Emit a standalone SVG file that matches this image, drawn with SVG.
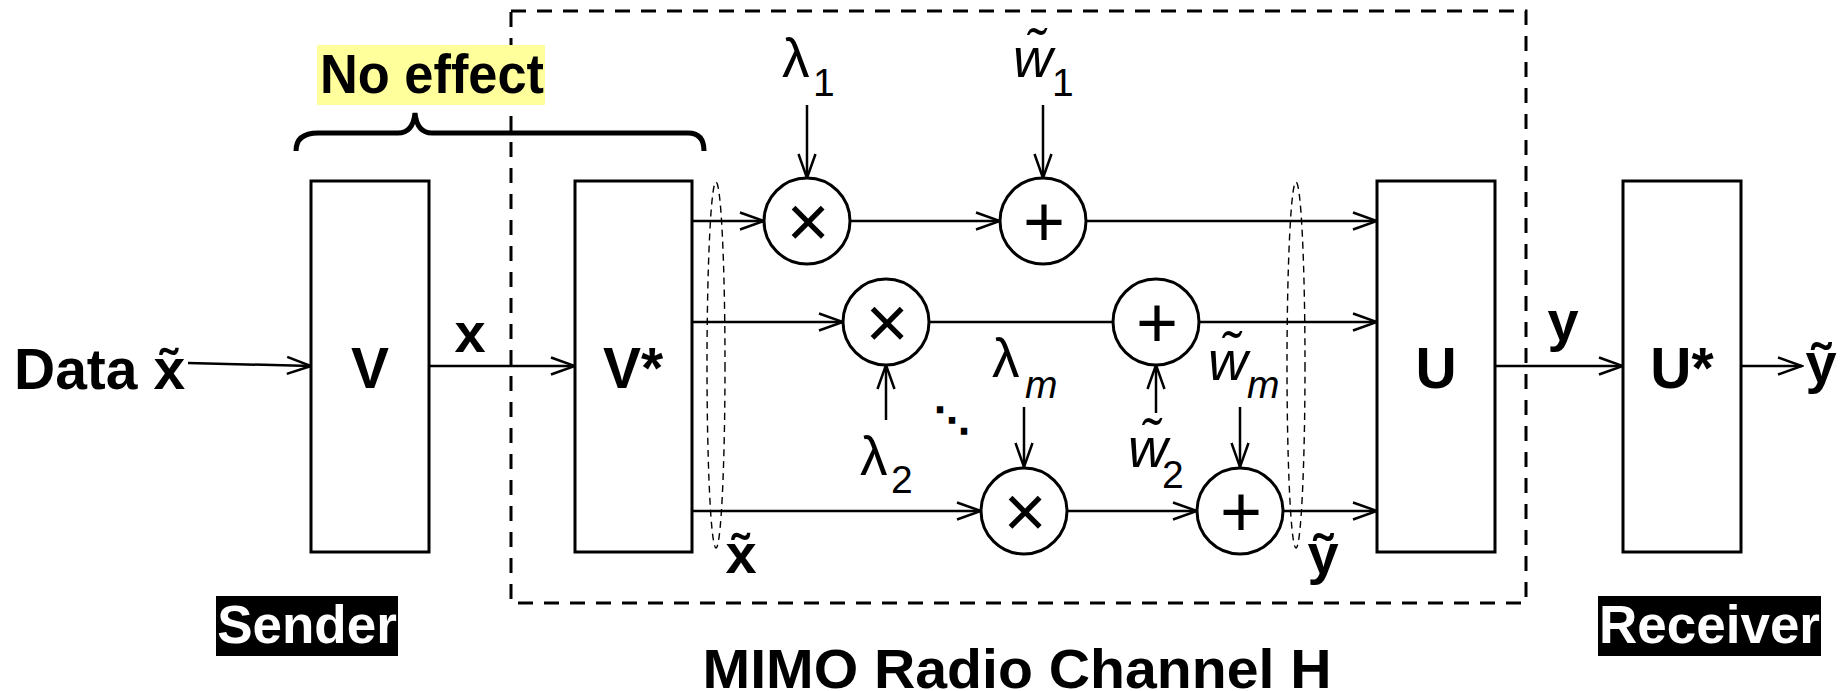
<svg xmlns="http://www.w3.org/2000/svg" width="1845" height="691" viewBox="0 0 1845 691">
<defs>
<style>
.box{fill:#fff;stroke:#000;stroke-width:3}
.op{fill:#fff;stroke:#000;stroke-width:3}
.conn{stroke:#000;stroke-width:2.5;fill:none}
.arr{marker-end:url(#ah)}
.b{font-family:"Liberation Sans",Arial,sans-serif;font-weight:bold;fill:#000}
.r{font-family:"Liberation Sans",Arial,sans-serif;font-weight:normal;fill:#000}
.i{font-family:"Liberation Sans",Arial,sans-serif;font-style:italic;fill:#000}
.w{fill:#fff}
.mul{font-family:"Liberation Sans",Arial,sans-serif;font-size:74px;text-anchor:middle}
.add{font-family:"Liberation Sans",Arial,sans-serif;font-size:72px;text-anchor:middle}
.ell{fill:none;stroke:#000;stroke-width:1.4;stroke-dasharray:7 5}
</style>
<marker id="ah" viewBox="0 0 28 20" refX="26" refY="10" markerWidth="28" markerHeight="20" markerUnits="userSpaceOnUse" orient="auto">
<path d="M2,1.5 L26,10 L2,18.5" fill="none" stroke="#000" stroke-width="2.5"/>
</marker>
</defs>
<rect width="1845" height="691" fill="#fff"/>

<g id="channel-frame">
<rect x="511" y="11" width="1015" height="592" fill="none" stroke="#000" stroke-width="3" stroke-dasharray="15 11"/>
</g>

<g id="no-effect">
<rect x="317" y="45" width="228" height="60" fill="#FFFF9C"/>
<text class="b" x="320" y="93" font-size="55" textLength="224" lengthAdjust="spacingAndGlyphs">No effect</text>
<path d="M296,151 Q296,133 318,133 L398,133 Q413,133 415,113 Q417,133 432,133 L688,133 Q704,133 704,151" fill="none" stroke="#000" stroke-width="5"/>
</g>

<g id="connectors">
<line class="conn arr" x1="188" y1="363" x2="311" y2="366"/>
<line class="conn arr" x1="429" y1="366" x2="575" y2="366"/>
<line class="conn arr" x1="692" y1="221" x2="764" y2="221"/>
<line class="conn arr" x1="850" y1="221" x2="1000" y2="221"/>
<line class="conn arr" x1="1086" y1="221" x2="1377" y2="221"/>
<line class="conn arr" x1="692" y1="322" x2="843" y2="322"/>
<line class="conn" x1="929" y1="322" x2="1113" y2="322"/>
<line class="conn arr" x1="1199" y1="322" x2="1377" y2="322"/>
<line class="conn arr" x1="692" y1="511" x2="981" y2="511"/>
<line class="conn arr" x1="1067" y1="511" x2="1197" y2="511"/>
<line class="conn arr" x1="1283" y1="511" x2="1377" y2="511"/>
<line class="conn arr" x1="1495" y1="366" x2="1623" y2="366"/>
<line class="conn arr" x1="1741" y1="366" x2="1802" y2="366"/>
<line class="conn arr" x1="807" y1="105" x2="807" y2="178"/>
<line class="conn arr" x1="1043" y1="105" x2="1043" y2="178"/>
<line class="conn arr" x1="886" y1="420" x2="886" y2="365"/>
<line class="conn arr" x1="1024" y1="407" x2="1024" y2="467"/>
<line class="conn arr" x1="1156" y1="413" x2="1156" y2="365"/>
<line class="conn arr" x1="1240" y1="407" x2="1240" y2="467"/>
</g>

<g id="ellipses">
<ellipse class="ell" cx="716" cy="365" rx="9" ry="183"/>
<ellipse class="ell" cx="1296" cy="365" rx="9" ry="183"/>
</g>

<g id="node-V">
<rect class="box" x="311" y="181" width="118" height="371"/>
<text class="b" x="370" y="388" font-size="57" text-anchor="middle">V</text>
</g>
<g id="node-Vstar">
<rect class="box" x="575" y="181" width="117" height="371"/>
<text class="b" x="633" y="388" font-size="57" text-anchor="middle">V*</text>
</g>
<g id="node-U">
<rect class="box" x="1377" y="181" width="118" height="371"/>
<text class="b" x="1436" y="388" font-size="57" text-anchor="middle">U</text>
</g>
<g id="node-Ustar">
<rect class="box" x="1623" y="181" width="118" height="371"/>
<text class="b" x="1682" y="388" font-size="57" text-anchor="middle">U*</text>
</g>

<g id="mul1"><circle class="op" cx="807" cy="221" r="43"/><text class="mul" x="808" y="247">×</text></g>
<g id="add1"><circle class="op" cx="1043" cy="221" r="43"/><text class="add" x="1044" y="246">+</text></g>
<g id="mul2"><circle class="op" cx="886" cy="322" r="43"/><text class="mul" x="887" y="348">×</text></g>
<g id="add2"><circle class="op" cx="1156" cy="322" r="43"/><text class="add" x="1157" y="347">+</text></g>
<g id="mul3"><circle class="op" cx="1024" cy="511" r="43"/><text class="mul" x="1025" y="537">×</text></g>
<g id="add3"><circle class="op" cx="1240" cy="511" r="43"/><text class="add" x="1241" y="536">+</text></g>

<g id="labels">
<text class="b" x="14" y="389" font-size="57">Data x&#x303;</text>
<text class="b" x="470" y="352" font-size="56" text-anchor="middle">x</text>
<text class="b" x="1563" y="340" font-size="56" text-anchor="middle">y</text>
<text class="b" x="741" y="573" font-size="56" text-anchor="middle">x&#x303;</text>
<text class="b" x="1323" y="573" font-size="56" text-anchor="middle">y&#x303;</text>
<text class="b" x="1821" y="382" font-size="56" text-anchor="middle">y&#x303;</text>

<text class="r" x="782" y="77" font-size="55">λ</text><text class="r" x="813" y="96" font-size="39">1</text>
<text class="i" x="1013" y="77" font-size="55">w&#x303;</text><text class="r" x="1052" y="96" font-size="39">1</text>
<text class="r" x="860" y="475" font-size="55">λ</text><text class="r" x="891" y="493" font-size="39">2</text>
<text class="r" x="992" y="377" font-size="55">λ</text><text class="i" x="1025" y="398" font-size="39">m</text>
<text class="i" x="1128" y="467" font-size="55">w&#x303;</text><text class="r" x="1162" y="488" font-size="39">2</text>
<text class="i" x="1208" y="380" font-size="55">w&#x303;</text><text class="i" x="1247" y="398" font-size="39">m</text>
<text x="952" y="433" font-family="DejaVu Sans,sans-serif" font-weight="bold" font-size="36" text-anchor="middle">⋱</text>

<text class="b" x="1017" y="688" font-size="56" text-anchor="middle" textLength="629" lengthAdjust="spacingAndGlyphs">MIMO Radio Channel H</text>
</g>

<g id="sender">
<rect x="216" y="596" width="182" height="60" fill="#000"/>
<text class="b w" x="307" y="643" font-size="53" text-anchor="middle">Sender</text>
</g>
<g id="receiver">
<rect x="1598" y="596" width="223" height="60" fill="#000"/>
<text class="b w" x="1709.5" y="643" font-size="53" text-anchor="middle">Receiver</text>
</g>
</svg>
